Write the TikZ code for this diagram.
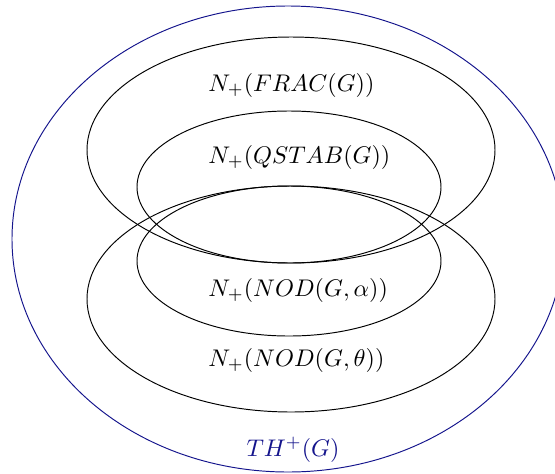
\documentclass[tikz,border=0pt]{standalone}
\usepackage{amsmath}
\usepackage{amssymb}
\usepackage{tikz}
\usetikzlibrary{positioning}
\definecolor{thblue}{HTML}{14148C}
\tikzset{
  setline/.style={draw=black, thin},
  thline/.style={draw=thblue, thin},
  setlabel/.style={anchor=west, inner sep=0pt, font=\normalsize},
  thlabel/.style={inner sep=0pt, text=thblue, font=\normalsize},
}

\begin{document}
\begin{tikzpicture}[x=0.0146cm, y=-0.0146cm]

  \useasboundingbox (0,0) rectangle (555,473);
  \clip (0,0) rectangle (555,473);

  % outer body TH+(G)
  \draw[thline] (288,239) ellipse [x radius=276, y radius=233];

  % the four relaxations
  \draw[setline] (291,150) ellipse [x radius=204, y radius=113];
  \draw[setline] (289,187) ellipse [x radius=152, y radius=76];
  \draw[setline] (289,261) ellipse [x radius=152, y radius=75];
  \draw[setline] (291,299) ellipse [x radius=204, y radius=113];

  \node[setlabel] (frac)  at (208,85)  {$N_+(FRAC(G))$};
  \node[setlabel] (qstab) at (208,157) {$N_+(QSTAB(G))$};
  \node[setlabel] (noda)  at (208,290) {$N_+(NOD(G,\alpha))$};
  \node[setlabel] (nodt)  at (208,360) {$N_+(NOD(G,\theta))$};
  \node[thlabel]  (th)    at (293,450) {$TH^+(G)$};

\end{tikzpicture}
\end{document}
